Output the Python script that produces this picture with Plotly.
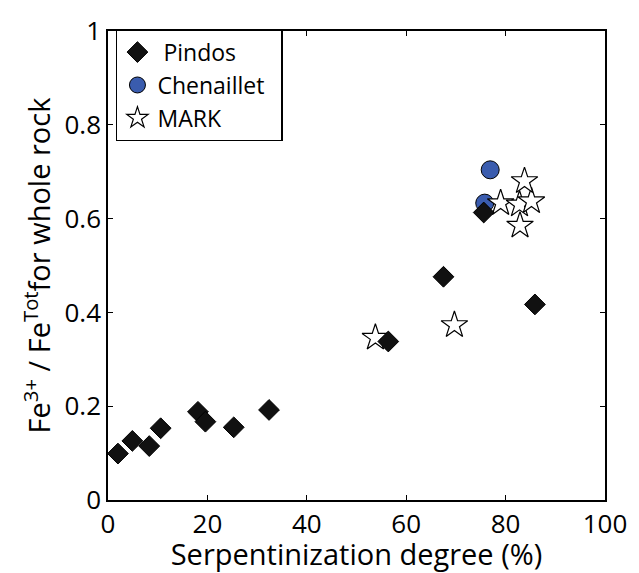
import plotly.graph_objects as go

# Data
pindos_x = [2.0, 4.9, 8.3, 10.6, 18.1, 19.6, 25.3, 32.4, 56.4, 67.5, 75.6, 85.9]
pindos_y = [0.099, 0.126, 0.115, 0.153, 0.188, 0.167, 0.155, 0.192, 0.338, 0.476, 0.613, 0.417]

chen_x = [76.9, 75.8]
chen_y = [0.704, 0.633]

mark_x = [53.8, 69.7, 79.0, 82.8, 85.2, 83.8, 82.9]
mark_y = [0.346, 0.373, 0.633, 0.630, 0.637, 0.680, 0.585]

x_ticks = [0, 20, 40, 60, 80, 100]
y_ticks = [0, 0.2, 0.4, 0.6, 0.8, 1]

FONT = "Open Sans"

fig = go.Figure()
fig.add_trace(go.Scatter(
    x=chen_x, y=chen_y, mode="markers", name="Chenaillet\u00a0\u00a0", legendrank=2,
    marker=dict(symbol="circle", size=18, color="#3a5cae",
                line=dict(color="black", width=1)),
))
fig.add_trace(go.Scatter(
    x=mark_x, y=mark_y, mode="markers", name="MARK", legendrank=3,
    marker=dict(symbol="star", size=20, color="white",
                line=dict(color="black", width=1.2)),
))
fig.add_trace(go.Scatter(
    x=pindos_x, y=pindos_y, mode="markers", name="\u00a0Pindos", legendrank=1,
    marker=dict(symbol="diamond", size=16, color="#111111",
                line=dict(color="black", width=1)),
))

axis_common = dict(
    showline=True, linecolor="black", linewidth=1.5, mirror="ticks",
    ticks="inside", ticklen=5, tickwidth=1, tickcolor="black",
    showgrid=False, zeroline=False, ticklabeloverflow="allow",
    tickfont=dict(family=FONT, size=26, color="black"),
)

fig.update_xaxes(
    range=[0, 100], tickvals=x_ticks,
    title=dict(text="Serpentinization degree (%)",
               font=dict(family=FONT, size=29, color="black"), standoff=0),
    **axis_common,
)
fig.update_yaxes(
    range=[0, 1], tickvals=y_ticks,
    title=dict(text="Fe<sup>3+</sup> / Fe<sup>Tot</sup>for whole rock",
               font=dict(family=FONT, size=29, color="black"), standoff=5),
    **axis_common,
)

fig.update_layout(
    width=639, height=573,
    margin=dict(l=108, r=22, t=22, b=70),
    paper_bgcolor="white", plot_bgcolor="white",
    showlegend=True,
    legend=dict(
        x=0.016, y=1.004, xanchor="left", yanchor="top",
        bgcolor="white", bordercolor="black", borderwidth=1.5,
        font=dict(family=FONT, size=23, color="black"),
        traceorder="normal",
    ),
)

fig.write_html("out.html")
